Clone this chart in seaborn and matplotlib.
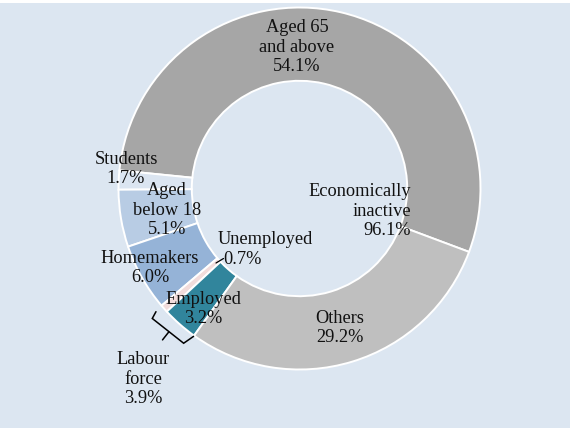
import numpy as np
import matplotlib
matplotlib.use("Agg")
import matplotlib.pyplot as plt
import seaborn as sns

# Population by economic activity status (%)
categories = ["Aged 65\nand above", "Students", "Aged\nbelow 18", "Homemakers",
              "Unemployed", "Employed", "Others"]
shares = [54.1, 1.7, 5.1, 6.0, 0.7, 3.2, 29.2]
colors = ["#a6a6a6", "#dbe5f1", "#b8cce4", "#95b3d7", "#f2dcdb", "#31859c", "#bfbfbf"]
labour_force_share = 3.9
inactive_share = 96.1

sns.set_theme(style="white")
plt.rcParams["font.family"] = ["Liberation Serif", "DejaVu Serif"]

W, H = 573, 428
fig = plt.figure(figsize=(W / 100, H / 100), dpi=100, facecolor="white")
ax = fig.add_axes([0, 0, 570 / W, 425 / H])
ax.set_facecolor("#dce6f1")
ax.add_patch(plt.Rectangle((0, 0), 570, 425, color="#dce6f1", zorder=0))

cx, cy = 299.5, H - 188.5
R = 181.0
start = -20.5
palette = sns.color_palette(colors)

wedges, _ = ax.pie(shares, colors=palette, startangle=start, counterclock=True,
                   center=(cx, cy), radius=R, frame=True,
                   wedgeprops=dict(width=0.405 * R, edgecolor="white", linewidth=1.4))
ax.set_xlim(0, 570)
ax.set_ylim(0, 425)
ax.set_aspect("equal")
ax.axis("off")

fs = 13.2
txt = dict(fontsize=fs, color="#111111", linespacing=1.17)


def P(x, y):
    return x, H - y


def polar(r, deg):
    a = np.deg2rad(deg)
    return cx + r * np.cos(a), cy + r * np.sin(a)


ax.text(*P(297, 47), f"{categories[0]}\n{shares[0]:.1f}%", ha="center", va="center", **txt)
ax.text(*P(411, 211), f"Economically\ninactive\n{inactive_share:.1f}%", ha="right", va="center", **txt)
ax.text(*P(126, 169), f"{categories[1]}\n{shares[1]:.1f}%", ha="center", va="center", **txt)
ax.text(*P(167, 210), f"{categories[2]}\n{shares[2]:.1f}%", ha="center", va="center", **txt)
ax.text(*P(150, 268), f"{categories[3]}\n{shares[3]:.1f}%", ha="center", va="center", **txt)
ax.text(*P(218, 239), categories[4], ha="left", va="center", **txt)
ax.text(*P(223, 259), f"{shares[4]:.1f}%", ha="left", va="center", **txt)
ax.text(*P(203, 309), f"{categories[5]}\n{shares[5]:.1f}%", ha="center", va="center", **txt)
ax.text(*P(340, 328), f"{categories[6]}\n{shares[6]:.1f}%", ha="center", va="center", **txt)
ax.text(*P(143, 379), f"Labour\nforce\n{labour_force_share:.1f}%", ha="center", va="center", **txt)

# leader line for the thin unemployed wedge
ax.plot([216, 223.5], [H - 263, H - 258.5], color="black", lw=0.9)

# bracket grouping the labour force wedges
t1 = start + 360 * sum(shares[:4]) / 100
t2 = start + 360 * sum(shares[:6]) / 100
tm = (t1 + t2) / 2
pts = [polar(1.045 * R, t1 + 0.3), polar(1.085 * R, t1 + 1.1),
       polar(1.068 * R, t2 - 1.2), polar(1.005 * R, t2)]
ax.plot([p[0] for p in pts], [p[1] for p in pts], color="black", lw=1.1,
        solid_joinstyle="miter")
m1, m2 = polar(1.073 * R, tm + 0.3), polar(1.128 * R, tm + 0.5)
ax.plot([m1[0], m2[0]], [m1[1], m2[1]], color="black", lw=1.1)

fig.savefig("out.png", dpi=100, facecolor="white")
